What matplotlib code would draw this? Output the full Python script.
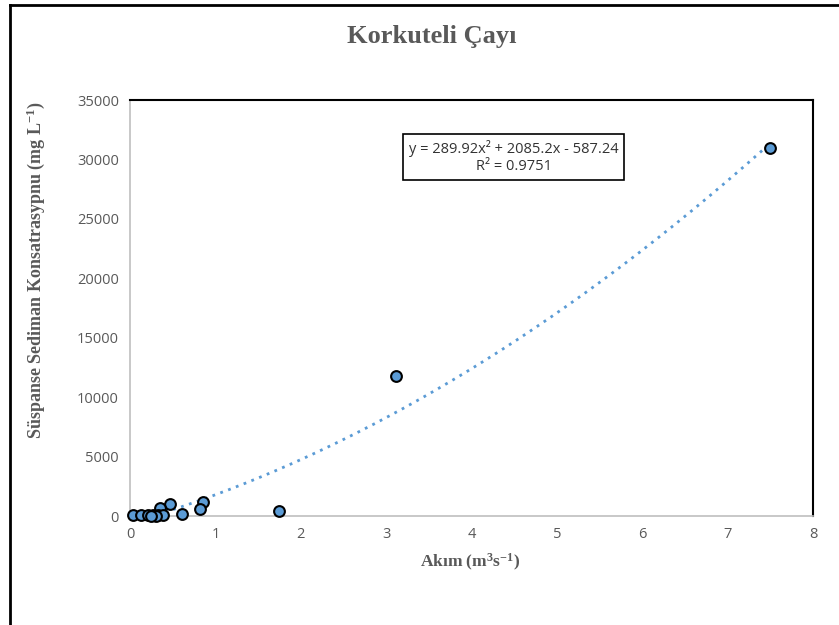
import matplotlib
matplotlib.use("Agg")
import matplotlib.pyplot as plt
from matplotlib.lines import Line2D
import numpy as np

plt.rcParams["mathtext.fontset"] = "custom"
plt.rcParams["mathtext.rm"] = "Liberation Serif:bold"
plt.rcParams["mathtext.it"] = "Liberation Serif:bold"
plt.rcParams["mathtext.bf"] = "Liberation Serif:bold"

# Data
akim = [7.50, 3.12, 1.74, 0.85, 0.82, 0.61, 0.47, 0.35, 0.04, 0.13, 0.21, 0.27, 0.33, 0.39, 0.30, 0.25]
konsantrasyon = [31000, 11750, 400, 1150, 550, 150, 1000, 700, 120, 100, 80, 60, 60, 80, 0, 40]
trend_coefs = [289.92, 2085.2, -587.24]
eq_text = "y = 289.92x² + 2085.2x - 587.24\nR² = 0.9751"
x_ticks = [0, 1, 2, 3, 4, 5, 6, 7, 8]
y_ticks = [0, 5000, 10000, 15000, 20000, 25000, 30000, 35000]

W, H = 839, 625
fig = plt.figure(figsize=(W/100, H/100), dpi=100)
ax = fig.add_axes([130/W, 1-516/H, (813-130)/W, (516-100)/H])

gray = "#595959"
blue = "#5B9BD5"

# trendline
xt = np.linspace(min(akim), max(akim), 400)
yt = np.polyval(trend_coefs, xt)
ax.plot(xt, yt, linestyle=(0, (1, 2)), color=blue, lw=2, zorder=2)

ax.scatter(akim, konsantrasyon, s=60, facecolor=blue, edgecolor="black", linewidths=1.5,
           zorder=3, clip_on=False)

ax.set_xlim(0, 8)
ax.set_ylim(0, 35000)
ax.set_xticks(x_ticks)
ax.set_yticks(y_ticks)
ax.tick_params(length=0, labelsize=10.5, labelcolor=gray, pad=8)
for lab in ax.get_xticklabels() + ax.get_yticklabels():
    lab.set_fontfamily("Open Sans")

for s in ["top", "right"]:
    ax.spines[s].set_color("black")
    ax.spines[s].set_linewidth(1.5)
for s in ["left", "bottom"]:
    ax.spines[s].set_color("#BFBFBF")
    ax.spines[s].set_linewidth(1.2)

fig.text(470/W, 1-562/H, "Akım (m$^{3}$s$^{-1}$)", fontfamily="Liberation Serif", fontweight="bold",
         fontsize=12.5, color=gray, ha="center", va="center")
fig.text(36/W, 1-270/H, "Süspanse Sediman Konsatrasypnu (mg L$^{-1}$)", fontfamily="Liberation Serif",
         fontweight="bold", fontsize=13, color=gray, ha="center", va="center", rotation=90)

fig.text(432/W, 1-36/H, "Korkuteli Çayı", fontfamily="Liberation Serif", fontweight="bold",
         fontsize=19, color=gray, ha="center", va="center")

ax.text(0.5615, 0.863, eq_text, transform=ax.transAxes, ha="center", va="center",
        fontsize=10.5, fontfamily="Open Sans", color="#333333", linespacing=1.2,
        bbox=dict(boxstyle="square,pad=0.4", facecolor="white", edgecolor="black", lw=1.2))

# figure frame (left and top only, like the cropped screenshot)
fig.add_artist(Line2D([9.5/W, 9.5/W], [0, 1-5/H], color="black", lw=2, transform=fig.transFigure))
fig.add_artist(Line2D([9.5/W, 1], [1-5/H, 1-5/H], color="black", lw=2, transform=fig.transFigure))

fig.savefig("out.png", dpi=100)
